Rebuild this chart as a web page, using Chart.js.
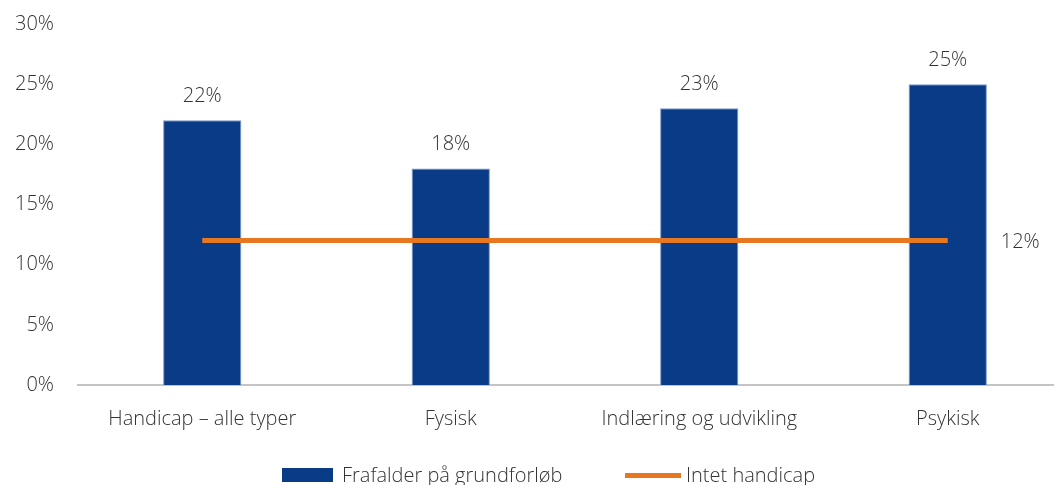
<!DOCTYPE html>
<html>
<head>
<meta charset="utf-8">
<script src="https://cdn.jsdelivr.net/npm/chart.js@4"></script>
<style>
  html, body { margin: 0; padding: 0; background: #fff; overflow: hidden; }
  #wrap { position: relative; width: 1054px; height: 485px; overflow: hidden; }
  #box { position: absolute; left: 0; top: 0; width: 1080px; height: 485px; }
  .legend { position: absolute; top: 463px; left: 0; width: 1054px; height: 24px;
    font-family: 'Open Sans', sans-serif; font-size: 20px; font-weight: 300; color: #333; }
  .legend span { position: absolute; top: 0; line-height: 24px; }
  .swatch-bar { position: absolute; left: 282px; top: 5px; width: 51px; height: 14px; background: #0a3b86; }
  .swatch-line { position: absolute; left: 625px; top: 10px; width: 56px; height: 5px; background: #e87722; }
</style>
</head>
<body>
<div id="wrap">
  <div id="box"><canvas id="chart"></canvas></div>
  <div class="legend">
    <div class="swatch-bar"></div>
    <span style="left:342px">Frafalder på grundforløb</span>
    <div class="swatch-line"></div>
    <span style="left:686px">Intet handicap</span>
  </div>
</div>
<script>
// Data
const categories = ['Handicap – alle typer', 'Fysisk', 'Indlæring og udvikling', 'Psykisk'];
const dropout = [22, 18, 23, 25];
const noHandicap = [12, 12, 12, 12];
const yTicks = [0, 5, 10, 15, 20, 25, 30];

const textColor = '#333';
const font = { family: "'Open Sans', sans-serif", size: 20, weight: 300 };

// labels above bars and next to the line end
const valueLabels = {
    id: 'valueLabels',
    afterDatasetsDraw(chart) {
        const ctx = chart.ctx;
        ctx.save();
        ctx.font = `${font.weight} ${font.size}px ${font.family}`;
        ctx.fillStyle = textColor;
        ctx.textBaseline = 'middle';

        ctx.textAlign = 'center';
        chart.getDatasetMeta(0).data.forEach((bar, i) => {
            ctx.fillText(dropout[i] + '%', bar.x, bar.y - 24);
        });

        const pts = chart.getDatasetMeta(1).data;
        const last = pts[pts.length - 1];
        ctx.textAlign = 'left';
        ctx.fillText(noHandicap[noHandicap.length - 1] + '%', last.x + 53, last.y + 2);
        ctx.restore();
    }
};

new Chart(document.getElementById('chart'), {
    data: {
        labels: categories,
        datasets: [{
            type: 'bar',
            label: 'Frafalder på grundforløb',
            data: dropout,
            backgroundColor: '#0a3b86',
            borderColor: '#7a98c8',
            borderWidth: 1,
            categoryPercentage: 1,
            barPercentage: 0.315,
            order: 2
        }, {
            type: 'line',
            label: 'Intet handicap',
            data: noHandicap,
            borderColor: '#e87722',
            borderWidth: 5,
            pointRadius: 0,
            borderCapStyle: 'butt',
            order: 1
        }]
    },
    options: {
        responsive: true,
        maintainAspectRatio: false,
        animation: false,
        layout: { padding: { top: 24, right: 8, left: 0, bottom: 0 } },
        plugins: {
            legend: { display: false },
            tooltip: { enabled: false }
        },
        scales: {
            x: {
                grid: { display: false, drawTicks: false },
                border: { display: true, color: '#c4c4c4', width: 2 },
                ticks: { color: textColor, font: font, padding: 22, maxRotation: 0 },
                afterFit: s => { s.height = 100; s.paddingLeft = 0; s.paddingRight = 0; }
            },
            y: {
                min: 0,
                max: 30,
                grid: { display: false, drawTicks: false },
                border: { display: false },
                afterBuildTicks: s => { s.ticks = yTicks.map(v => ({ value: v })); },
                ticks: { color: textColor, font: font, padding: 24, callback: v => v + '%' },
                afterFit: s => { s.width = 78; s.paddingTop = 0; s.paddingBottom = 0; }
            }
        }
    },
    plugins: [valueLabels]
});
</script>
</body>
</html>
